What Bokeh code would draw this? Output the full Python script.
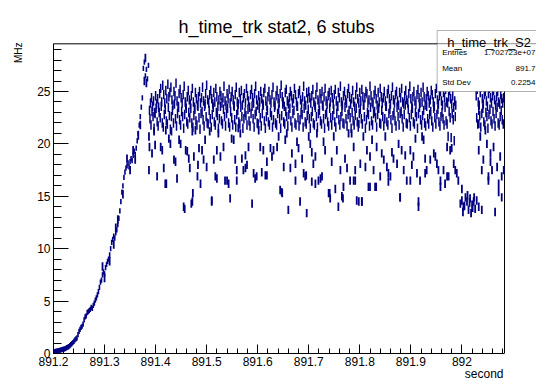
from bokeh.plotting import figure
from bokeh.models import (FixedTicker, CustomJSTickFormatter, Label, BoxAnnotation, Range1d, Title)
from bokeh.embed import file_html
from bokeh.resources import INLINE

# ---------------- texts ----------------
title_text = "h_time_trk stat2, 6 stubs"
x_label = "second"
y_label = "MHz"
stats_name = "h_time_trk_S2"
stats_keys = ["Entries", "Mean", "Std Dev"]
stats_vals = ["1.702723e+07", "891.7", "0.2254"]

x_ticks = [891.2, 891.3, 891.4, 891.5, 891.6, 891.7, 891.8, 891.9, 892.0]
x_tick_labels = ["891.2", "891.3", "891.4", "891.5", "891.6", "891.7", "891.8", "891.9", "892"]
y_ticks = [0, 5, 10, 15, 20, 25]
y_tick_labels = ["0", "5", "10", "15", "20", "25"]
x_lo, x_hi = 891.2, 892.0835     # histogram axis range (s)
y_lo, y_hi = 0.0, 29.55          # frame range (MHz)

# ---------------- data (MHz per bin) ----------------
bin_w = 0.002
rise_start = 891.200
rise_vals = [0.15, 0.18, 0.2, 0.22, 0.25, 0.28, 0.3, 0.33, 0.36, 0.4,
             0.42, 0.45, 0.5, 0.55, 0.6, 0.65, 0.75, 0.85, 0.95, 1.05,
             1.15, 1.3, 1.4, 1.5, 1.8, 2.1, 2.3, 2.5, 2.6, 2.8,
             3.2, 3.5, 3.6, 3.9, 4.0, 4.1, 4.2, 4.4, 4.3, 4.6,
             4.8, 5.1, 5.3, 5.6, 5.9, 6.3, 6.8, 7.0, 7.5, 7.8,
             7.6, 8.2, 8.5, 8.8, 9.0, 9.4, 10.0, 10.6, 10.9, 11.2,
             11.0, 11.5, 11.8, 12.3, 12.9, 13.6, 14.5, 15.4, 16.0, 16.8,
             17.3, 17.7, 17.9, 18.2, 17.8, 18.3, 18.6, 18.4, 18.9, 19.3,
             19.0, 19.6, 20.3, 21.0, 21.8, 22.6, 23.5, 24.4, 27.2, 27.8,
             26.5, 27.1, 26.2, 27.5]

band_a_start = 891.388
band_a_vals = [
    23.2, 23.9, 24.4, 23.6, 24.1, 23.0, 24.6, 23.8, 24.3, 23.5, 24.8, 25.3, 24.0, 25.6, 24.7, 23.9, 25.1, 24.3, 25.7, 24.5,
    24.9, 25.4, 24.2, 23.7, 25.0, 24.6, 25.8, 24.1, 23.6, 24.8, 25.2, 24.4, 23.9, 24.7, 25.5, 24.0, 23.4, 24.5, 25.1, 24.2,
    23.8, 24.6, 25.3, 24.0, 23.5, 24.9, 24.3, 23.7, 24.5, 25.0, 23.9, 24.4, 25.4, 24.1, 23.6, 24.8, 25.6, 24.2, 23.9, 24.7,
    25.1, 24.3, 23.8, 24.9, 24.0, 25.3, 24.5, 23.6, 24.2, 25.0, 24.6, 23.9, 24.4, 25.5, 24.1, 23.7, 24.8, 24.3, 25.2, 23.9,
    24.5, 25.0, 24.2, 23.6, 24.7, 25.4, 24.0, 23.8, 24.9, 24.3, 25.1, 23.7, 24.4, 24.8, 23.9, 25.3, 24.6, 24.1, 23.5, 24.7,
    25.2, 24.4, 23.9, 24.8, 25.5, 24.2, 23.7, 24.6, 24.0, 25.0, 24.3, 23.8, 24.9, 25.3, 24.1, 23.6, 24.5, 25.0, 24.2, 23.9,
    24.7, 25.4, 24.0, 23.7, 24.6, 25.1, 24.3, 23.9, 24.8, 25.6, 24.5, 24.0, 23.6, 24.9, 25.2, 24.1, 23.8, 24.4, 25.0, 24.6,
    23.9, 24.3, 25.3, 24.7, 24.0, 23.6, 24.8, 25.1, 24.2, 23.8, 24.5, 25.5, 24.1, 23.7, 24.9, 24.3, 25.0, 24.4, 23.9, 24.6,
    25.2, 24.0, 23.7, 24.7, 25.4, 24.2, 23.9, 24.8, 24.3, 25.0, 23.6, 24.5, 25.3, 24.1, 23.8, 24.6, 24.9, 24.0, 25.1, 24.4,
    23.8, 24.7, 25.2, 24.1, 23.6, 24.9, 24.4, 25.5, 24.0, 23.7, 24.6, 25.0, 24.2, 23.9, 24.8, 25.3, 24.5, 23.8, 24.3, 25.1,
    24.0, 23.6, 24.7, 25.4, 24.3, 23.9, 24.9, 24.1, 25.2, 24.5, 23.7, 24.4, 25.0, 24.8, 23.9, 24.2, 25.5, 24.6, 24.0, 23.8,
    24.7, 25.1, 24.3, 23.7, 24.9, 24.0, 25.3, 24.5, 23.9, 24.4, 25.0, 24.1, 23.6, 24.8, 25.2, 24.3, 23.8, 24.6, 25.4, 24.2,
    23.9, 24.7, 25.0, 24.1, 23.7, 24.9, 24.4, 25.3, 24.0, 23.8, 24.6, 25.1, 24.2, 23.9, 24.8, 25.5, 24.3, 23.6, 24.5, 25.0,
    24.1, 23.8, 24.7, 25.2, 24.4, 23.9, 24.9, 24.0, 25.4, 24.5, 23.7, 24.3, 25.0, 24.6, 23.9, 24.2, 25.1, 24.7, 24.0, 23.6,
    24.8, 25.3, 24.2, 23.8, 24.6, 25.0, 24.1, 23.7, 24.9, 24.4, 25.2, 24.0, 23.9, 24.5, 25.1, 24.3, 23.8, 24.6, 23.5, 24.1,
    23.7]

band_b_start = 891.389
band_b_vals = [
    22.4, 21.8, 23.1, 22.6, 21.5, 22.9, 23.4, 22.1, 21.7, 23.0, 22.5, 23.6, 22.0, 21.6, 22.8, 23.3, 22.2, 21.9, 23.5, 22.7,
    21.4, 22.6, 23.2, 22.0, 23.8, 22.4, 21.7, 22.9, 23.5, 22.3, 21.8, 23.1, 22.6, 21.5, 22.8, 23.7, 22.1, 21.9, 23.0, 22.5,
    23.4, 22.0, 21.6, 22.7, 23.3, 22.2, 21.8, 23.6, 22.5, 21.4, 22.9, 23.1, 22.3, 21.7, 23.8, 22.6, 22.0, 21.9, 23.2, 22.4,
    21.6, 22.8, 23.5, 22.1, 21.8, 23.0, 22.7, 21.5, 22.4, 23.6, 22.2, 21.9, 23.3, 22.6, 21.7, 22.9, 23.4, 22.0, 21.6, 23.1,
    22.5, 21.8, 23.7, 22.3, 21.6, 22.8, 23.2, 22.1, 21.9, 23.5, 22.6, 21.5, 22.4, 23.0, 22.7, 21.8, 23.3, 22.2, 21.7, 22.9,
    23.6, 22.4, 21.6, 22.8, 23.1, 22.0, 21.9, 23.4, 22.5, 21.7, 22.9, 23.7, 22.2, 21.5, 22.6, 23.2, 22.1, 21.8, 23.0, 22.7,
    21.6, 22.3, 23.5, 22.0, 21.8, 22.9, 23.3, 22.4, 21.5, 22.7, 23.8, 22.1, 21.9, 23.1, 22.6, 21.7, 22.8, 23.4, 22.2, 21.6,
    22.9, 23.2, 22.0, 21.8, 23.6, 22.5, 21.7, 22.3, 23.0, 22.8, 21.6, 23.4, 22.1, 21.9, 22.7, 23.3, 22.4, 21.5, 22.6, 23.1,
    22.0, 21.8, 23.5, 22.6, 21.6, 22.9, 23.2, 22.2, 21.9, 23.7, 22.4, 21.5, 22.8, 23.0, 22.1, 21.7, 23.4, 22.5, 21.8, 22.7,
    23.3, 22.1, 21.6, 22.9, 23.6, 22.3, 21.8, 22.6, 23.1, 22.0, 21.9, 23.5, 22.4, 21.7, 22.8, 23.2, 22.5, 21.5, 23.0, 22.2,
    21.8, 22.7, 23.4, 22.1, 21.6, 22.9, 23.3, 22.4, 21.9, 23.7, 22.6, 21.5, 22.3, 23.0, 22.8, 21.7, 23.5, 22.2, 21.8, 22.9,
    23.1, 22.5, 21.6, 22.8, 23.4, 22.0, 21.9, 23.2, 22.6, 21.7, 22.4, 23.6, 22.1, 21.8, 22.9, 23.3, 22.3, 21.5, 22.7, 23.0,
    22.2, 21.7, 23.5, 22.6, 21.8, 22.9, 23.1, 22.4, 21.6, 22.8, 23.7, 22.0, 21.9, 23.3, 22.5, 21.7, 22.8, 23.4, 22.1, 21.9,
    23.0, 22.6, 21.5, 22.9, 23.5, 22.3, 21.8, 22.7, 23.2, 22.0, 21.7, 23.6, 22.4, 21.9, 22.8, 23.1, 22.2, 21.6, 23.4, 22.5,
    21.9, 22.8, 23.3, 22.1, 21.7, 22.6, 23.0, 22.4, 21.8, 23.5, 22.2, 21.9, 20.7, 23.1, 22.5, 20.6, 22.9, 22.3, 20.3, 22.6]

right_a_start = 892.028
right_a_vals = [24.6, 25.2, 24.0, 23.7, 24.9, 25.4, 24.3, 23.8, 24.7, 25.0, 24.1, 23.6, 24.8, 25.3,
                24.4, 23.9, 24.6, 25.1, 24.2, 23.7, 24.5, 25.0, 24.0, 23.8, 24.7, 24.3, 23.9, 24.4]
right_b_start = 892.029
right_b_vals = [22.5, 21.9, 23.2, 22.7, 21.6, 22.9, 23.4, 22.1, 21.8, 23.0, 22.6, 21.5, 22.8, 23.3,
                22.2, 21.9, 23.1, 22.4, 21.7, 22.9, 23.5, 22.0, 21.8, 22.6, 23.2, 22.3, 21.9]

# scattered low bins (time in s, rate in MHz)
dip_t = [891.296, 891.300, 891.310, 891.318, 891.322, 891.326, 891.336, 891.344, 891.350, 891.356,
         891.360, 891.366, 891.370, 891.378, 891.380, 891.382,
         891.387, 891.388, 891.387, 891.393, 891.397, 891.399, 891.403, 891.410, 891.413, 891.416,
         891.420, 891.421, 891.426, 891.429, 891.431, 891.436, 891.439, 891.442, 891.446, 891.449,
         891.455, 891.457, 891.459, 891.462, 891.465, 891.467, 891.470, 891.472, 891.473, 891.475,
         891.478, 891.482, 891.483, 891.485, 891.488, 891.419, 891.472,
         891.491, 891.494, 891.497, 891.500, 891.506, 891.510, 891.514, 891.517, 891.520, 891.523,
         891.527, 891.533, 891.536, 891.543, 891.546, 891.549, 891.553, 891.556, 891.559, 891.562,
         891.566, 891.569, 891.572, 891.576, 891.579, 891.582, 891.589, 891.592, 891.595, 891.602,
         891.605, 891.608, 891.611, 891.615, 891.618, 891.625, 891.628, 891.631, 891.638, 891.641,
         891.644, 891.647, 891.651, 891.654, 891.657, 891.660, 891.664, 891.667, 891.674, 891.677,
         891.680, 891.683, 891.687, 891.690, 891.693, 891.696, 891.700, 891.703, 891.706, 891.709,
         891.713, 891.716, 891.719, 891.723, 891.729, 891.732, 891.739, 891.742, 891.745, 891.749,
         891.752, 891.755, 891.758, 891.762, 891.765, 891.768, 891.771, 891.775, 891.778, 891.781,
         891.510, 891.520, 891.540, 891.559, 891.576, 891.598, 891.618, 891.648, 891.674, 891.706,
         891.695, 891.713, 891.726, 891.741, 891.767, 891.788, 891.798, 891.804, 891.820, 891.832,
         891.856, 891.879, 891.899, 891.928, 891.958, 891.971,
         891.784, 891.788, 891.791, 891.791, 891.794, 891.798, 891.801, 891.804, 891.807, 891.811,
         891.814, 891.817, 891.820, 891.824, 891.827, 891.830, 891.833, 891.840, 891.843, 891.847,
         891.850, 891.853, 891.856, 891.860, 891.863, 891.866, 891.873, 891.876, 891.879, 891.882,
         891.886, 891.889, 891.892, 891.899, 891.902, 891.905, 891.909, 891.912, 891.915, 891.915,
         891.918, 891.922, 891.925, 891.928, 891.931, 891.938, 891.945, 891.948, 891.951, 891.954,
         891.958, 891.964, 891.967, 891.971, 891.974, 891.977, 891.980, 891.984, 891.987, 891.990,
         891.993, 892.000,
         891.997, 892.000, 892.003, 892.007, 892.010, 892.013, 892.016, 892.020, 892.023, 892.026,
         892.029, 892.033, 892.002, 892.011, 892.018, 892.024, 892.005, 892.015, 892.021, 892.039,
         892.065,
         892.033, 892.036, 892.033, 892.039, 892.042, 892.046, 892.049, 892.052, 892.056, 892.059,
         892.062, 892.069, 892.072, 892.075, 892.078, 892.082, 892.052, 892.056, 892.072, 892.078]
dip_v = [8.3, 7.2, 8.8, 10.4, 12.0, 12.8, 15.2, 18.6, 17.5, 19.4,
         18.5, 20.8, 21.8, 26.0, 28.2, 25.8,
         20.7, 19.7, 17.5, 19.1, 21.2, 19.9, 16.9, 19.7, 19.4, 17.7,
         21.3, 16.2, 20.5, 20.0, 21.2, 18.5, 18.3, 16.7, 20.4, 20.0,
         14.0, 13.8, 19.4, 19.3, 18.6, 17.7, 14.3, 21.2, 15.3, 18.8,
         21.3, 16.9, 18.0, 19.6, 16.2, 16.2, 14.5,
         19.4, 18.5, 20.4, 17.8, 21.2, 14.6, 18.5, 16.9, 19.4, 21.0,
         18.8, 19.7, 16.5, 16.2, 14.8, 20.5, 20.4, 18.5, 17.5, 21.5,
         21.0, 18.6, 17.5, 18.9, 18.0, 19.7, 14.3, 17.2, 16.7, 21.3,
         19.7, 17.3, 19.4, 17.0, 18.3, 19.6, 18.8, 19.4, 19.7, 20.7,
         15.6, 15.4, 17.8, 20.4, 21.0, 13.7, 17.7, 19.1, 18.1, 20.2,
         19.6, 14.5, 18.6, 17.2, 16.9, 13.4, 20.7, 20.0, 19.2, 18.1,
         18.8, 21.0, 16.5, 16.7, 20.2, 19.4, 15.3, 14.8, 18.3, 20.7,
         15.7, 19.4, 14.0, 17.5, 15.0, 15.9, 18.6, 17.7, 21.0, 16.5,
         14.5, 16.7, 16.5, 16.5, 17.7, 16.9, 17.0, 15.3, 16.5, 16.4,
         17.0, 16.2, 16.9, 15.3, 14.8, 16.5, 14.5, 14.5, 15.9, 15.9,
         16.4, 14.9, 16.5, 17.2, 15.9, 16.9,
         21.0, 19.7, 17.5, 16.5, 14.6, 21.9, 18.1, 14.5, 20.7, 17.8,
         19.4, 15.9, 18.8, 20.4, 17.5, 15.9, 19.7, 16.9, 19.1, 18.5,
         20.7, 17.8, 17.2, 16.9, 19.2, 18.6, 18.1, 20.0, 14.9, 19.4,
         17.5, 18.9, 16.5, 19.4, 18.0, 18.8, 20.5, 17.2, 14.5, 14.0,
         16.5, 20.7, 20.4, 18.6, 17.5, 18.5, 19.1, 18.8, 18.1, 17.5,
         16.5, 17.5, 16.2, 19.7, 16.9, 19.4, 19.6, 18.1, 17.5, 17.2,
         16.5, 15.7,
         14.3, 14.6, 14.0, 14.9, 14.5, 13.7, 14.8, 14.2, 14.5, 13.8,
         14.6, 14.0, 13.5, 15.1, 13.4, 14.9, 14.1, 14.4, 13.9, 13.7,
         13.5,
         21.9, 20.7, 19.4, 17.5, 18.5, 21.3, 20.0, 16.5, 19.1, 17.5,
         19.7, 17.8, 16.2, 18.8, 14.9, 17.5, 16.9, 18.3, 15.4, 16.9]

# ---------------- figure ----------------
NAVY = "#000080"
FONT = "Liberation Sans"
PX_X = 510.5      # px per second
PX_Y = 10.48      # px per MHz
W, H = 536, 381
LEFT, BOTTOM_PAD = 53, 28
FRAME_BOTTOM = H - BOTTOM_PAD   # canvas y of the frame bottom

# The plotting frame is extended to the top and right edges of the canvas so that the
# title and the statistics box (drawn in data space) are not clipped.
p = figure(width=W, height=H, output_backend="svg", toolbar_location=None,
           x_range=Range1d(x_lo, x_lo + (W - LEFT) / PX_X),
           y_range=Range1d(y_lo, FRAME_BOTTOM / PX_Y),
           min_border_left=LEFT, min_border_right=0, min_border_top=0, min_border_bottom=BOTTOM_PAD)
p.background_fill_color = "white"
p.border_fill_color = "white"
p.outline_line_color = None
p.xgrid.visible = False
p.ygrid.visible = False

x_minor = [x_lo + 0.02 * i for i in range(45)]
p.xaxis.ticker = FixedTicker(ticks=x_ticks, minor_ticks=x_minor)
p.yaxis.ticker = FixedTicker(ticks=y_ticks, minor_ticks=list(range(0, 30)))
fmt_code = """
for (let i = 0; i < tvals.length; i++) { if (Math.abs(tvals[i] - tick) < 1e-6) return tlabels[i]; }
return "";
"""
p.xaxis.formatter = CustomJSTickFormatter(args=dict(tvals=x_ticks, tlabels=x_tick_labels), code=fmt_code)
p.yaxis.formatter = CustomJSTickFormatter(args=dict(tvals=y_ticks, tlabels=y_tick_labels), code=fmt_code)
p.xaxis.bounds = (x_lo, x_hi)
p.yaxis.bounds = (y_lo, y_hi)

for ax in (p.xaxis[0], p.yaxis[0]):
    ax.axis_line_color = "black"
    ax.major_tick_line_color = "black"
    ax.minor_tick_line_color = "black"
    ax.major_tick_out = 0
    ax.minor_tick_out = 0
    ax.major_label_text_font = FONT
    ax.major_label_text_font_size = "12px"
    ax.major_label_text_color = "black"
    ax.major_label_standoff = 3
p.xaxis.major_tick_in = 9
p.xaxis.minor_tick_in = 5
p.yaxis.major_tick_in = 15
p.yaxis.minor_tick_in = 8

# axis titles (right-aligned at the frame corner, as ROOT does)
p.add_layout(Title(text=x_label, align="right", offset=W - 503, vertical_align="bottom",
                   standoff=-7, text_font=FONT, text_font_size="12px", text_font_style="normal",
                   text_color="black"), "below")
p.add_layout(Title(text=y_label, align="right", offset=42, vertical_align="top",
                   standoff=18, text_font=FONT, text_font_size="10px", text_font_style="normal",
                   text_color="black"), "left")

# frame top and right edges
p.segment(x0=[x_lo, x_hi], y0=[y_hi, y_lo], x1=[x_hi, x_hi], y1=[y_hi, y_hi],
          line_color="black", line_width=1)


def dashes(t, v, half, width):
    p.segment(x0=t, y0=[y - half for y in v], x1=t, y1=[y + half for y in v],
              line_color=NAVY, line_width=width)


rise_t = [rise_start + bin_w * i for i in range(len(rise_vals))]
band_a_t = [band_a_start + bin_w * i for i in range(len(band_a_vals))]
band_b_t = [band_b_start + bin_w * i for i in range(len(band_b_vals))]
right_a_t = [right_a_start + bin_w * i for i in range(len(right_a_vals))]
right_b_t = [right_b_start + bin_w * i for i in range(len(right_b_vals))]

dashes(rise_t, rise_vals, 0.25, 1.6)
dashes(dip_t, dip_v, 0.4, 1.8)
dashes(band_b_t, band_b_vals, 0.45, 1.5)
dashes(band_a_t, band_a_vals, 0.45, 1.5)
dashes(right_b_t, right_b_vals, 0.45, 1.5)
dashes(right_a_t, right_a_vals, 0.45, 1.5)


def dx(px):
    return x_lo + (px - LEFT) / PX_X


def dy(py):
    return (FRAME_BOTTOM - py) / PX_Y


# title
p.add_layout(Label(x=dx(276), y=dy(26), text=title_text, text_font=FONT, text_font_size="18px",
                   text_align="center", text_baseline="alphabetic", text_color="black"))

# statistics box
p.add_layout(BoxAnnotation(left=dx(436.7), right=dx(541), top=dy(30), bottom=dy(43.3),
                           fill_color="white", fill_alpha=1, line_color="black", line_width=1, level="overlay"))
p.add_layout(BoxAnnotation(left=dx(436.7), right=dx(541), top=dy(43.3), bottom=dy(91),
                           fill_color="white", fill_alpha=1, line_color="black", line_width=1, level="overlay"))
p.add_layout(Label(x=dx(446.7), y=dy(41.5), text=stats_name, text_font=FONT, text_font_size="13px",
                   text_align="left", text_baseline="alphabetic", text_color="black", level="overlay"))
row_y = [52.3, 67.7, 82.0]
for k, v, ry in zip(stats_keys, stats_vals, row_y):
    p.add_layout(Label(x=dx(441.7), y=dy(ry), text=k, text_font=FONT, text_font_size="8px",
                       text_align="left", text_baseline="middle", text_color="black", level="overlay"))
    p.add_layout(Label(x=dx(535), y=dy(ry), text=v, text_font=FONT, text_font_size="8px",
                       text_align="right", text_baseline="middle", text_color="black", level="overlay"))

open("out.html", "w").write(file_html(p, INLINE))
